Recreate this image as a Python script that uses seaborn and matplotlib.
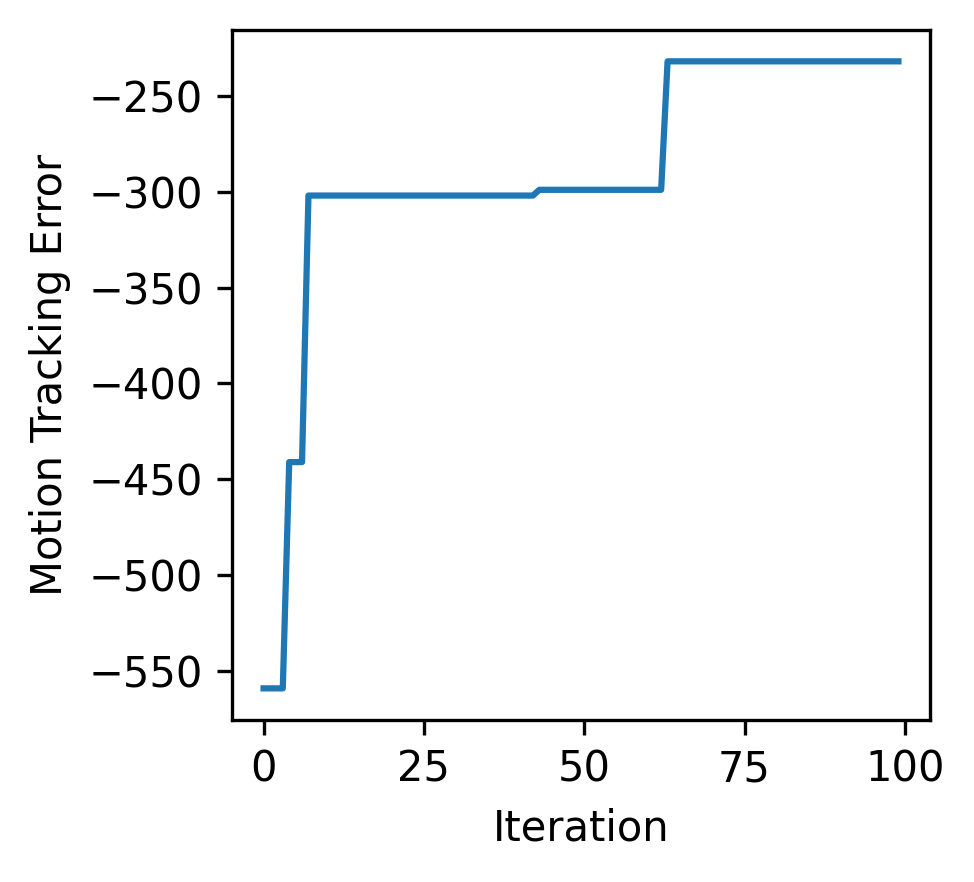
import numpy as np
import pandas as pd
import matplotlib
matplotlib.use('Agg')
import matplotlib.pyplot as plt
import seaborn as sns

# step levels of the best-so-far curve and how many iterations each one lasts
levels = [-559, -441, -302, -299, -232]
run_lengths = [4, 3, 36, 20, 37]

error = np.repeat(levels, run_lengths)
iteration = np.arange(len(error))
df = pd.DataFrame({'Iteration': iteration, 'Motion Tracking Error': error})

fig, ax = plt.subplots(figsize=(974 / 300, 882 / 300), dpi=300)
fig.subplots_adjust(left=0.238, right=0.955, top=0.966, bottom=0.184)

sns.lineplot(data=df, x='Iteration', y='Motion Tracking Error', ax=ax,
             color='#1f77b4', lw=1.5)
ax.set_xticks([0, 25, 50, 75, 100])

plt.savefig('out.png', dpi=300)
plt.close()
